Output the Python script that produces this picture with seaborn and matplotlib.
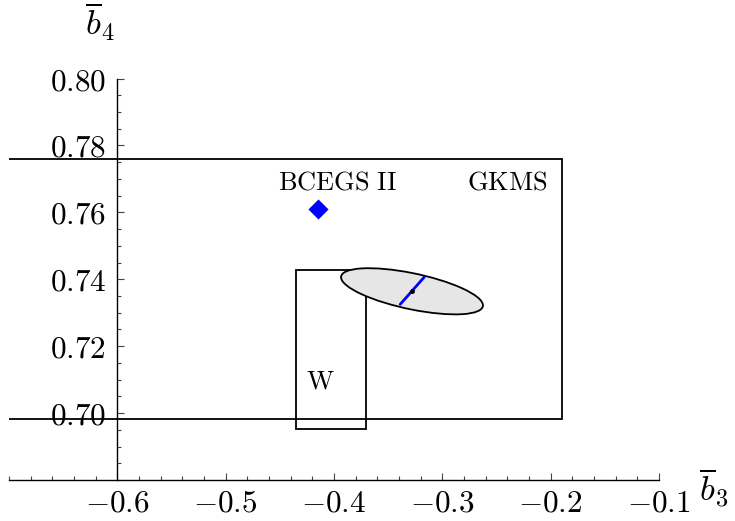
import numpy as np
import pandas as pd
import matplotlib
matplotlib.use("Agg")
import matplotlib.pyplot as plt
import matplotlib.patches as mpatches
from matplotlib.transforms import Affine2D
from matplotlib.ticker import MultipleLocator, FixedLocator
import seaborn as sns

# data
gkms_box = [-0.80, -0.1895, 0.6981, 0.7760]     # x0, x1, y0, y1 (left edge runs off the plot)
w_box = [-0.4349, -0.3706, 0.6951, 0.7427]
bcegs_point = [-0.4146, 0.7610]
ellipse_center = [-0.328, 0.7364]
ellipse_ax = 0.0655          # half width along b3
ellipse_ay = 0.0069          # half height along b4
ellipse_phase = 127.5        # degrees, gives the tilt
blue_x = [-0.3168, -0.3389]
blue_y = [0.7406, 0.7325]
x_ticks = [-0.6, -0.5, -0.4, -0.3, -0.2, -0.1]
y_ticks = [0.70, 0.72, 0.74, 0.76, 0.78, 0.80]
labels = ["BCEGS II", "GKMS", "W"]
label_pos = [(-0.397, 0.7690), (-0.240, 0.7690), (-0.4127, 0.7095)]

sns.set_style("white")
plt.rcParams["mathtext.fontset"] = "cm"
plt.rcParams["text.color"] = "black"
plt.rcParams["xtick.color"] = "black"
plt.rcParams["ytick.color"] = "black"

fig = plt.figure(figsize=(7.35, 5.21), dpi=100)
ax = fig.add_axes([9 / 735, 41 / 521, 650 / 735, 401.5 / 521])
ax.set_xlim(-0.7, -0.1)
ax.set_ylim(0.68, 0.80)

# boxes
for x0, x1, y0, y1 in [gkms_box, w_box]:
    ax.add_patch(mpatches.Rectangle((x0, y0), x1 - x0, y1 - y0, fill=False,
                                    edgecolor="black", lw=1.3, zorder=2))

# ellipse drawn as a unit circle through an affine map into data space
ph = np.deg2rad(ellipse_phase)
tr = Affine2D().from_values(ellipse_ax, ellipse_ay * np.cos(ph), 0, ellipse_ay * np.sin(ph),
                            ellipse_center[0], ellipse_center[1]) + ax.transData
ax.add_patch(mpatches.Ellipse((0, 0), 2, 2, transform=tr, facecolor="#e6e6e6",
                              edgecolor="black", lw=1.3, zorder=3))

seg = pd.DataFrame({"b3": blue_x, "b4": blue_y})
sns.lineplot(data=seg, x="b3", y="b4", sort=False, color="blue", lw=2, ax=ax, zorder=4)
ax.plot([ellipse_center[0]], [ellipse_center[1]], "o", color="black", ms=2.5, zorder=5)

pt = pd.DataFrame({"b3": [bcegs_point[0]], "b4": [bcegs_point[1]]})
sns.scatterplot(data=pt, x="b3", y="b4", marker="D", s=105, color="blue",
                linewidth=0, ax=ax, zorder=5)

for txt, (lx, ly) in zip(labels, label_pos):
    ax.text(lx, ly, r"$\mathrm{" + txt.replace(" ", r"\ ") + "}$", fontsize=19,
            ha="center", va="center", color="black", zorder=6)

# Mathematica style axes crossing at (-0.6, 0.68)
for s in ["top", "right"]:
    ax.spines[s].set_visible(False)
ax.spines["left"].set_position(("data", -0.6))
ax.spines["bottom"].set_position(("data", 0.68))
for s in ["left", "bottom"]:
    ax.spines[s].set_linewidth(1.0)
    ax.spines[s].set_color("black")

ax.xaxis.set_major_locator(FixedLocator(x_ticks))
ax.yaxis.set_major_locator(FixedLocator(y_ticks))
ax.xaxis.set_minor_locator(MultipleLocator(0.02))
ax.yaxis.set_minor_locator(MultipleLocator(0.005))
ax.set_xticklabels([r"$%.1f$" % v for v in x_ticks])
ax.set_yticklabels([r"$%.2f$" % v for v in y_ticks])
ax.tick_params(which="both", direction="in", color="#444444", width=0.8,
               labelcolor="black", bottom=True, left=True, top=False, right=False)
ax.tick_params(which="major", length=5, labelsize=22.5)
ax.tick_params(which="minor", length=3)
ax.tick_params(axis="x", which="major", pad=6)
ax.tick_params(axis="y", which="major", pad=8)
ax.set_xlabel("")
ax.set_ylabel("")

fig.text(100 / 735, 1 - 22 / 521, r"$\overline{b}_4$", fontsize=25, ha="center", va="center")
fig.text(714 / 735, 1 - 488 / 521, r"$\overline{b}_3$", fontsize=25, ha="center", va="center")

fig.savefig("out.png", dpi=100)
